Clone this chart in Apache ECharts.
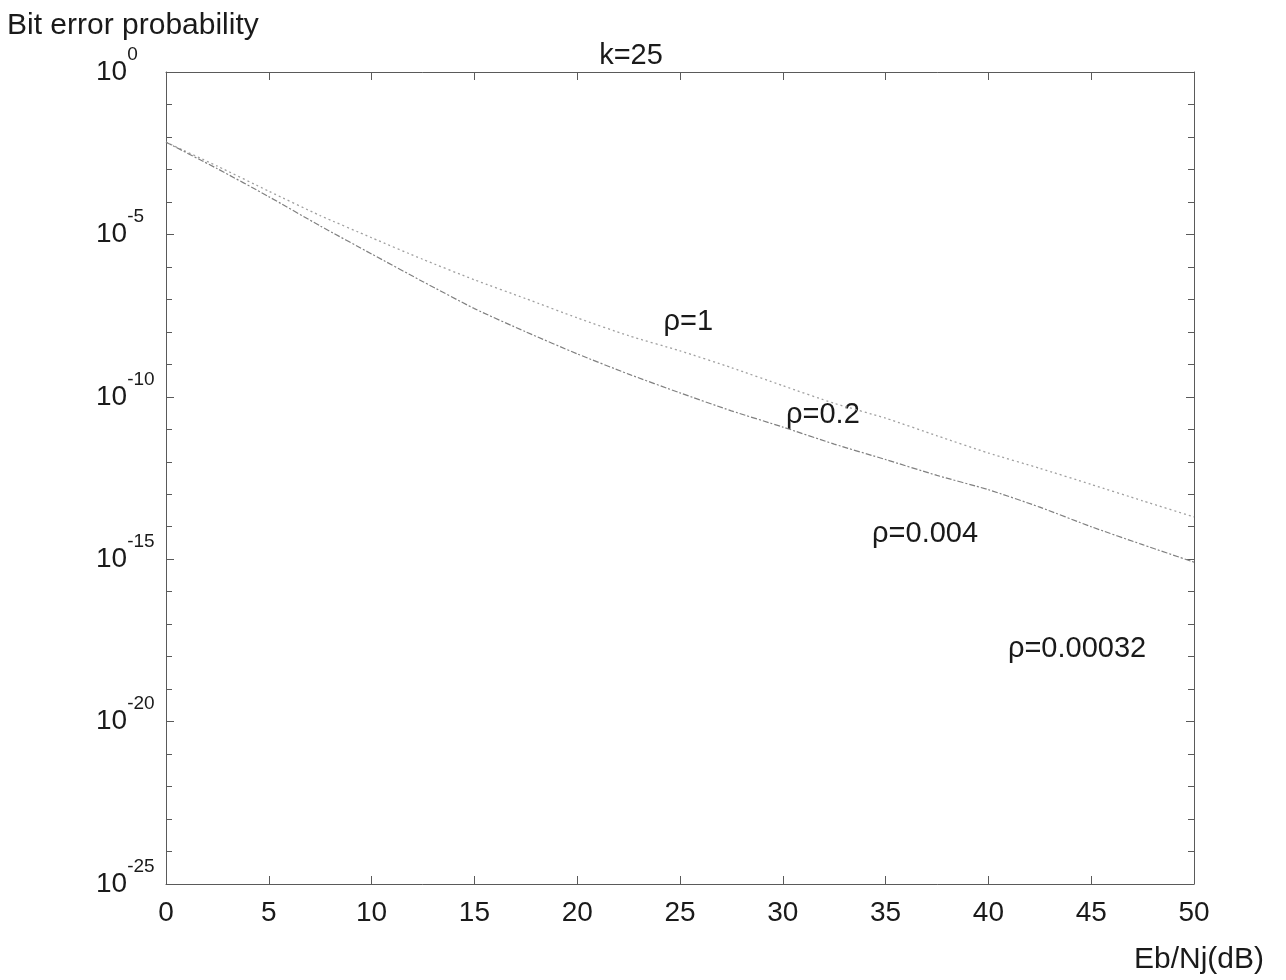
<!DOCTYPE html>
<html>
<head>
<meta charset="utf-8">
<script src="https://cdn.jsdelivr.net/npm/echarts@6/dist/echarts.min.js"></script>
<style>html,body{margin:0;padding:0;background:#fff}#c{width:1286px;height:980px}</style>
</head>
<body>
<div id="c"></div>
<script>
// Eb/Nj (dB)
var ebnj = [0, 2.5, 5, 7.5, 10, 12.5, 15, 17.5, 20, 22.5, 25, 27.5, 30, 32.5, 35, 37.5, 40, 42.5, 45, 47.5, 50];
// upper (dotted) curve, bit error probability
var curveUpper = [6.9e-3, 1.26e-3, 2.14e-4, 3.8e-5, 7.9e-6, 1.7e-6, 4.0e-7, 1.05e-7, 2.7e-8, 7.6e-9, 2.6e-9,
  7.9e-10, 2.2e-10, 6.3e-11, 2.2e-11, 6.3e-12, 1.86e-12, 6.3e-13, 2.0e-13, 6.3e-14, 2.0e-14];
// lower (dashed) curve, bit error probability
var curveLower = [6.9e-3, 1.05e-3, 1.45e-4, 1.82e-5, 2.5e-6, 3.5e-7, 5.2e-8, 1.0e-8, 2.1e-9, 5.0e-10, 1.32e-10,
  3.7e-11, 1.17e-11, 3.5e-12, 1.17e-12, 3.8e-13, 1.38e-13, 4.0e-14, 1.0e-14, 2.8e-15, 8.1e-16];
// curve annotations
var annoText = ['ρ=1', 'ρ=0.2', 'ρ=0.004', 'ρ=0.00032'];
var annoX = [25.4, 31.95, 36.92, 44.31];
var annoY = [2.0e-8, 2.75e-11, 6.0e-15, 1.7e-18];
// y axis range (probability) and decade step of labelled ticks
var yMinProb = 1e-25, yMaxProb = 1, yDecadeStep = 5;
var xMin = 0, xMax = 50, xStep = 5;

var FONT = '"Liberation Sans", Arial, sans-serif';
var AX = '#5a5a5a';
var TXT = '#1a1a1a';

// logarithmic y: plotted on decade exponent through a value axis
function lg(v) { return Math.log(v) / Math.LN10; }
function pairs(xs, ys) { return xs.map(function (x, i) { return [x, lg(ys[i])]; }); }

var chart = echarts.init(document.getElementById('c'));
function yAxisOpt(pos, showLabel) {
  return {
    type: 'value', min: Math.round(lg(yMinProb)), max: Math.round(lg(yMaxProb)), interval: yDecadeStep,
    position: pos,
    axisLine: { show: true, onZero: false, lineStyle: { color: AX, width: 1 } },
    splitLine: { show: false },
    axisTick: { show: true, inside: true, length: 8, lineStyle: { color: AX } },
    minorTick: { show: true, splitNumber: yDecadeStep, length: 6, lineStyle: { color: AX } },
    axisLabel: showLabel ? {
      show: true, margin: 70, align: 'left', verticalAlign: 'middle',
      fontFamily: FONT, color: TXT,
      formatter: function (e) { return '{b|10}{s|' + Math.round(e) + '}'; },
      rich: {
        b: { fontFamily: FONT, fontSize: 28, color: TXT, lineHeight: 54 },
        s: { fontFamily: FONT, fontSize: 19, color: TXT, lineHeight: 20, verticalAlign: 'top' }
      }
    } : { show: false }
  };
}
function xAxisOpt(pos, showLabel) {
  return {
    type: 'value', min: xMin, max: xMax, interval: xStep, position: pos,
    axisLine: { show: true, onZero: false, lineStyle: { color: AX, width: 1 } },
    splitLine: { show: false },
    axisTick: { show: true, inside: true, length: 8, lineStyle: { color: AX } },
    axisLabel: showLabel ? { show: true, margin: 15, fontFamily: FONT, fontSize: 28, color: TXT } : { show: false }
  };
}
chart.setOption({
  animation: false,
  backgroundColor: '#fff',
  grid: { left: 166, right: 92, top: 72, bottom: 96 },
  title: [
    { text: 'k=25', left: 626, top: 36, textAlign: 'center',
      textStyle: { fontFamily: FONT, fontSize: 29, fontWeight: 'normal', color: TXT } },
    { text: 'Bit error probability', left: 2, top: 6,
      textStyle: { fontFamily: FONT, fontSize: 30, fontWeight: 'normal', color: TXT } },
    { text: 'Eb/Nj(dB)', left: 1129, top: 940,
      textStyle: { fontFamily: FONT, fontSize: 30, fontWeight: 'normal', color: TXT } }
  ],
  xAxis: [xAxisOpt('bottom', true), xAxisOpt('top', false)],
  yAxis: [yAxisOpt('left', true), yAxisOpt('right', false)],
  series: [
    { type: 'line', xAxisIndex: 0, yAxisIndex: 0, data: pairs(ebnj, curveUpper), showSymbol: false,
      smooth: 0.2, lineStyle: { color: '#a0a0a0', width: 1.3, type: [2, 3] } },
    { type: 'line', xAxisIndex: 0, yAxisIndex: 0, data: pairs(ebnj, curveLower), showSymbol: false,
      smooth: 0.2, lineStyle: { color: '#808080', width: 1.2, type: [6, 2, 2, 2] } },
    { type: 'scatter', xAxisIndex: 0, yAxisIndex: 0, symbolSize: 2, silent: true,
      itemStyle: { color: 'rgba(0,0,0,0)', opacity: 1 },
      data: annoText.map(function (t, i) { return { name: t, value: [annoX[i], lg(annoY[i])] }; }),
      label: { show: true, position: 'inside', formatter: '{b}', fontFamily: FONT, fontSize: 29,
        color: TXT, opacity: 1, textBorderWidth: 0 } }
  ]
});
</script>
</body>
</html>
